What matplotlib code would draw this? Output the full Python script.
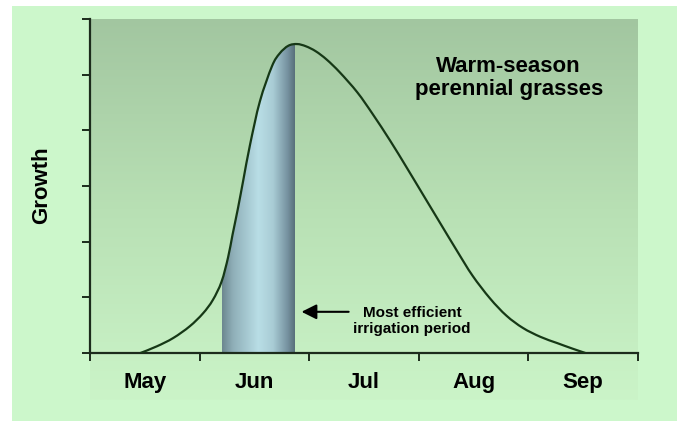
import numpy as np
import matplotlib
matplotlib.use('Agg')
import matplotlib.pyplot as plt
from matplotlib.patches import PathPatch, Rectangle
from matplotlib.path import Path
from matplotlib.colors import LinearSegmentedColormap

plt.rcParams['font.family'] = ['Liberation Sans', 'DejaVu Sans']
plt.rcParams['font.weight'] = 'bold'

# growth curve (x in months from start of May)
growth_x = [0.46, 0.61, 0.76, 0.91, 1.03, 1.12, 1.20, 1.26, 1.30, 1.35, 1.40, 1.46,
            1.55, 1.66, 1.73, 1.81, 1.89, 1.97, 2.06, 2.16, 2.28, 2.44, 2.58, 2.74,
            2.89, 3.04, 3.19, 3.35, 3.49, 3.65, 3.80, 3.95, 4.11, 4.26, 4.40, 4.52]
growth_y = [0.00, 0.12, 0.27, 0.48, 0.71, 0.95, 1.28, 1.72, 2.12, 2.60, 3.12, 3.74,
            4.52, 5.15, 5.38, 5.52, 5.55, 5.51, 5.42, 5.27, 5.04, 4.68, 4.29, 3.81,
            3.33, 2.84, 2.35, 1.83, 1.39, 0.98, 0.67, 0.45, 0.29, 0.18, 0.08, 0.00]
months = ['May', 'Jun', 'Jul', 'Aug', 'Sep']
irrigation_start = 1.20
irrigation_end = 1.86


def smooth_path(xs, ys, close=False):
    # Catmull-Rom through the read points, drawn as cubic Bezier segments
    p = np.column_stack([xs, ys])
    verts = [p[0]]
    codes = [Path.MOVETO]
    n = len(p)
    for i in range(n - 1):
        p0 = p[max(i - 1, 0)]
        p1 = p[i]
        p2 = p[i + 1]
        p3 = p[min(i + 2, n - 1)]
        verts += [p1 + (p2 - p0) / 6, p2 - (p3 - p1) / 6, p2]
        codes += [Path.CURVE4] * 3
    if close:
        verts.append(p[0])
        codes.append(Path.CLOSEPOLY)
    return Path(verts, codes)


W, H = 677, 421
fig = plt.figure(figsize=(W / 100, H / 100), dpi=100, facecolor='white')
fig.patches.append(Rectangle((12 / W, 0), 1, (H - 6) / H, transform=fig.transFigure,
                             facecolor='#ccf7cb', edgecolor='none', zorder=-10))

# darker green panel behind the plot
bg = fig.add_axes([90 / W, (H - 400) / H, (638 - 90) / W, (400 - 19) / H], zorder=0)
bg_cmap = LinearSegmentedColormap.from_list('bg', ['#a2c6a0', '#b8e0b4', '#cbf4c8'])
bg.imshow(np.linspace(0, 1, 256).reshape(-1, 1), cmap=bg_cmap, aspect='auto',
          extent=[0, 1, 0, 1])
bg.axis('off')

ax = fig.add_axes([90 / W, (H - 353) / H, (638 - 90) / W, (353 - 19) / H], zorder=1)
ax.set_facecolor('none')

# shaded irrigation window with a cylinder-like gradient
clip = PathPatch(smooth_path(growth_x, growth_y, close=True), facecolor='none', edgecolor='none')
ax.add_patch(clip)
shade_cmap = LinearSegmentedColormap.from_list(
    'shade', [(0, '#6c878f'), (0.15, '#8fafb8'), (0.5, '#b9dee6'), (0.7, '#a9ccd5'),
              (0.9, '#7692a0'), (1.0, '#58707a')])
im = ax.imshow(np.linspace(0, 1, 256).reshape(1, -1), cmap=shade_cmap, aspect='auto',
               extent=[irrigation_start, irrigation_end, 0, 6], zorder=2)
im.set_clip_path(clip)

ax.add_patch(PathPatch(smooth_path(growth_x, growth_y), facecolor='none',
                       edgecolor='#163816', lw=1.6, zorder=3))
ax.set_xlim(0, 5)
ax.set_ylim(0, 6)

for s in ['top', 'right']:
    ax.spines[s].set_visible(False)
for s in ['left', 'bottom']:
    ax.spines[s].set_color('#1c2b1c')
    ax.spines[s].set_linewidth(1.6)

ax.set_yticks(np.arange(0, 7))
ax.set_yticklabels([])
ax.tick_params(axis='y', length=6, width=1.4, color='#1c2b1c', direction='out')
ax.set_xticks(np.arange(0, 6))
ax.set_xticklabels([])
ax.tick_params(axis='x', which='major', length=6, width=1.4, color='#1c2b1c', direction='out')
ax.set_xticks(np.arange(0.5, 5, 1), minor=True)
ax.set_xticklabels(months, minor=True, fontsize=16, fontweight='bold')
ax.tick_params(axis='x', which='minor', length=0, pad=14)

fig.text(42 / W, (H - 185) / H, 'Growth', rotation=90, ha='center', va='center',
         fontsize=16, fontweight='bold')

ax.text(3.82, 4.94, 'Warm-season\nperennial grasses', ha='center', va='center',
        fontsize=16, fontweight='bold', linespacing=1.15)

ax.annotate('', xy=(1.93, 0.74), xytext=(2.36, 0.74),
            arrowprops=dict(arrowstyle='-|>,head_length=0.9,head_width=0.45',
                            color='black', lw=1.5, shrinkA=0, shrinkB=0))
ax.text(2.94, 0.57, 'Most efficient\nirrigation period', ha='center', va='center',
        fontsize=11, fontweight='bold', linespacing=1.2)

fig.savefig('out.png', dpi=100, facecolor=fig.get_facecolor())
